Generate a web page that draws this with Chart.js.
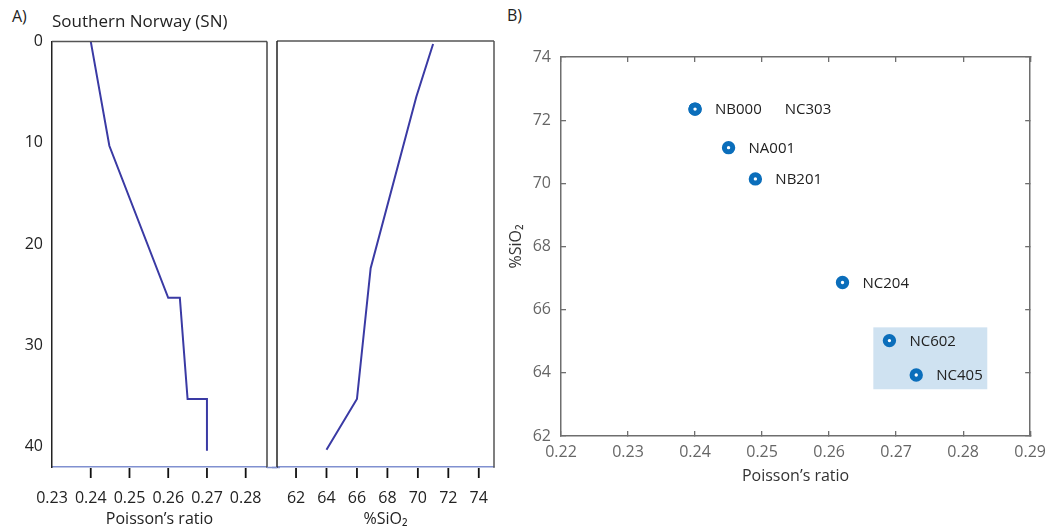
<!DOCTYPE html>
<html><head><meta charset="utf-8">
<script src="https://cdn.jsdelivr.net/npm/chart.js@4.4.1/dist/chart.umd.min.js"></script>
<style>
html,body{margin:0;padding:0;background:#fff;width:1058px;height:530px;overflow:hidden;font-family:'Open Sans',sans-serif}
canvas{position:absolute;top:0}
.lbl{position:absolute;font-size:16px;color:#222;line-height:1}
</style></head><body>
<div class="lbl" style="left:12px;top:8px">A)</div>
<div class="lbl" style="left:507px;top:7px">B)</div>
<canvas id="cA1" width="280" height="530" style="left:0"></canvas>
<canvas id="cA2" width="240" height="530" style="left:272px"></canvas>
<canvas id="cB" width="558" height="530" style="left:500px"></canvas>
<script>
// ---- Data: panel A (Southern Norway profile) ----
const depthPoisson = [0, 10.3, 25.3, 25.3, 35.3, 35.3, 40.4];
const poissonSN    = [0.240, 0.2448, 0.260, 0.263, 0.265, 0.270, 0.270];
const depthSiO2    = [0.3, 5.5, 22.4, 35.3, 40.3];
const sio2SN       = [71.0, 69.9, 66.9, 66.0, 64.0];
const depthTicks   = [0, 10, 20, 30, 40];
const poissonTicksA = [0.23, 0.24, 0.25, 0.26, 0.27, 0.28];
const sio2TicksA    = [62, 64, 66, 68, 70, 72, 74];

// ---- Data: panel B (samples) ----
const sampleNames   = ['NB000', 'NC303', 'NA001', 'NB201', 'NC204', 'NC602', 'NC405'];
const samplePoisson = [0.240, 0.240, 0.245, 0.249, 0.262, 0.269, 0.273];
const sampleSiO2    = [72.35, 72.35, 71.13, 70.14, 66.86, 65.02, 63.93];
const highlightPoisson = [0.2666, 0.2836];
const highlightSiO2    = [63.48, 65.44];
const poissonTicksB = [0.22, 0.23, 0.24, 0.25, 0.26, 0.27, 0.28, 0.29];
const sio2TicksB    = [62, 64, 66, 68, 70, 72, 74];

const FONT = "'Open Sans', sans-serif";
Chart.defaults.font.family = FONT;
Chart.defaults.color = '#222';

const setTicks = arr => s => { s.ticks = arr.map(v => ({value: v})); };

const lineColor = '#3a3aa4';
const baseColor = '#8090d0';
const tickInk = '#111111';

function makeFrame(cfg) {
  return {
    id: 'frame_' + cfg.name,
    afterDraw(chart) {
      const ctx = chart.ctx, a = chart.chartArea;
      const line = (x1, y1, x2, y2, c, w) => {
        ctx.beginPath(); ctx.strokeStyle = c; ctx.lineWidth = w;
        ctx.moveTo(x1, y1); ctx.lineTo(x2, y2); ctx.stroke();
      };
      ctx.save();
      if (cfg.top) line(a.left, a.top, a.right, a.top, cfg.top, 1.5);
      if (cfg.right) line(a.right, a.top, a.right, a.bottom + 0.75, cfg.right, 1.5);
      if (cfg.left) line(a.left, a.top, a.left, a.bottom + 0.75, cfg.left, 1.5);
      if (cfg.extRight) line(a.right, a.bottom + 0.5, chart.width, a.bottom + 0.5, cfg.extRight, 1.5);
      if (cfg.extLeft) line(0, a.bottom + 0.5, a.left, a.bottom + 0.5, cfg.extLeft, 1.5);
      const xs = chart.scales.x;
      xs.ticks.forEach((t, i) => {
        if (cfg.skipFirst && i === 0) return;
        const px = xs.getPixelForValue(t.value);
        line(px, a.bottom + 1, px, a.bottom + 11, tickInk, 1.8);
      });
      ctx.restore();
    }
  };
}

const gridA = {display: true, drawOnChartArea: false, drawTicks: true, tickLength: 10,
               lineWidth: 1.5, color: 'rgba(0,0,0,0)', tickColor: 'rgba(0,0,0,0)'};

// ---- Panel A1: Poisson's ratio vs depth ----
new Chart(document.getElementById('cA1'), {
  type: 'scatter',
  data: {datasets: [{
    data: poissonSN.map((v, i) => ({x: v, y: depthPoisson[i]})),
    showLine: true, borderColor: lineColor, borderWidth: 2, pointRadius: 0, tension: 0
  }]},
  options: {
    responsive: false, animation: false, devicePixelRatio: 1,
    layout: {padding: {left: 0, right: 13, top: 0, bottom: 0}},
    plugins: {
      legend: {display: false}, tooltip: {enabled: false},
      title: {display: true, text: 'Southern Norway (SN)', align: 'start', fullSize: false,
              font: {size: 17, weight: 'normal'}, color: '#222', padding: {top: 12, bottom: 9}}
    },
    scales: {
      x: {type: 'linear', min: 0.23, max: 0.2855,
          afterBuildTicks: setTicks(poissonTicksA), afterFit: s => { s.height = 63; },
          grid: gridA,
          border: {display: true, color: baseColor, width: 1.5},
          ticks: {padding: 12, font: {size: 16}, color: '#222', maxRotation: 0, autoSkip: false,
                  callback: v => Number(v).toFixed(2)},
          title: {display: true, text: 'Poisson’s ratio', font: {size: 16}, color: '#222', padding: {top: 0, bottom: 1}}},
      y: {type: 'linear', reverse: true, min: 0, max: 42,
          afterBuildTicks: setTicks(depthTicks), afterFit: s => { s.width = 52; },
          grid: {display: false, drawTicks: false},
          border: {display: true, color: '#222', width: 1.5},
          ticks: {padding: 9, font: {size: 16}, color: '#222'}}
    }
  },
  plugins: [makeFrame({name: 'a1', top: '#555', right: '#444', extRight: baseColor, skipFirst: true})]
});

// ---- Panel A2: SiO2 vs depth ----
new Chart(document.getElementById('cA2'), {
  type: 'scatter',
  data: {datasets: [{
    data: sio2SN.map((v, i) => ({x: v, y: depthSiO2[i]})),
    showLine: true, borderColor: lineColor, borderWidth: 2, pointRadius: 0, tension: 0
  }]},
  options: {
    responsive: false, animation: false, devicePixelRatio: 1,
    layout: {padding: {left: 5, right: 18, top: 41, bottom: 0}},
    plugins: {legend: {display: false}, tooltip: {enabled: false}},
    scales: {
      x: {type: 'linear', min: 60.75, max: 75,
          afterBuildTicks: setTicks(sio2TicksA), afterFit: s => { s.height = 63; },
          grid: gridA,
          border: {display: true, color: baseColor, width: 1.5},
          ticks: {padding: 12, font: {size: 16}, color: '#222', maxRotation: 0, autoSkip: false},
          title: {display: true, text: '%SiO₂', font: {size: 16}, color: '#222', padding: {top: 0, bottom: 1}}},
      y: {type: 'linear', reverse: true, min: 0, max: 42, display: false}
    }
  },
  plugins: [makeFrame({name: 'a2', top: '#555', right: '#555', left: '#222', extLeft: baseColor, skipFirst: false})]
});

// ---- Panel B: SiO2 vs Poisson's ratio ----
const bPlugin = {
  id: 'sampleDecor',
  beforeDatasetsDraw(chart) {
    const {ctx, scales: {x, y}} = chart;
    const x1 = x.getPixelForValue(highlightPoisson[0]), x2 = x.getPixelForValue(highlightPoisson[1]);
    const y1 = y.getPixelForValue(highlightSiO2[1]), y2 = y.getPixelForValue(highlightSiO2[0]);
    ctx.save();
    ctx.fillStyle = '#cfe2f1';
    ctx.fillRect(x1, y1, x2 - x1, y2 - y1);
    ctx.restore();
  },
  afterDatasetsDraw(chart) {
    const {ctx} = chart;
    const meta = chart.getDatasetMeta(0);
    ctx.save();
    ctx.font = "15px " + FONT;
    ctx.fillStyle = '#222';
    ctx.textBaseline = 'middle';
    const placed = [];
    meta.data.forEach((pt, i) => {
      let tx = pt.x + 20;
      placed.forEach(p => {
        if (Math.abs(p.px - pt.x) < 1 && Math.abs(p.py - pt.y) < 1) tx = Math.max(tx, p.end + 23);
      });
      const name = sampleNames[i];
      ctx.fillText(name, tx, pt.y + 1);
      placed.push({px: pt.x, py: pt.y, end: tx + ctx.measureText(name).width});
    });
    ctx.restore();
  }
};

const axisGray = '#6e6e6e';
const inGrid = {display: true, drawOnChartArea: false, tickLength: -5, lineWidth: 1.3, color: axisGray};
new Chart(document.getElementById('cB'), {
  type: 'scatter',
  data: {datasets: [{
    data: samplePoisson.map((v, i) => ({x: v, y: sampleSiO2[i]})),
    pointRadius: 4.2, pointBorderWidth: 5, pointBorderColor: '#0b6ebb', pointBackgroundColor: '#ffffff',
    pointHoverRadius: 4.2
  }]},
  options: {
    responsive: false, animation: false, devicePixelRatio: 1,
    layout: {padding: {left: 0, right: 17, top: 57, bottom: 0}},
    plugins: {legend: {display: false}, tooltip: {enabled: false}},
    scales: {
      x: {type: 'linear', position: 'bottom', min: 0.22, max: 0.29,
          afterBuildTicks: setTicks(poissonTicksB), afterFit: s => { s.height = 94; },
          grid: inGrid, border: {display: true, color: axisGray, width: 1.5},
          ticks: {padding: 12, font: {size: 16}, color: '#666', maxRotation: 0, autoSkip: false,
                  callback: v => Number(v).toFixed(2)},
          title: {display: true, text: 'Poisson’s ratio', font: {size: 16}, color: '#333', padding: {top: 0, bottom: 44}}},
      x2: {type: 'linear', position: 'top', min: 0.22, max: 0.29,
          afterBuildTicks: setTicks(poissonTicksB), afterFit: s => { s.height = 0; },
          grid: inGrid, border: {display: true, color: axisGray, width: 1.5},
          ticks: {display: false}},
      y: {type: 'linear', position: 'left', min: 62, max: 74,
          afterBuildTicks: setTicks(sio2TicksB), afterFit: s => { s.width = 61; },
          grid: inGrid, border: {display: true, color: axisGray, width: 1.5},
          ticks: {padding: 15, font: {size: 16}, color: '#666'},
          title: {display: true, text: '%SiO₂', font: {size: 16}, color: '#333', padding: {top: 7, bottom: 0}}},
      y2: {type: 'linear', position: 'right', min: 62, max: 74,
          afterBuildTicks: setTicks(sio2TicksB), afterFit: s => { s.width = 0; },
          grid: inGrid, border: {display: true, color: axisGray, width: 1.5},
          ticks: {display: false}}
    }
  },
  plugins: [bPlugin]
});
</script>
</body></html>
